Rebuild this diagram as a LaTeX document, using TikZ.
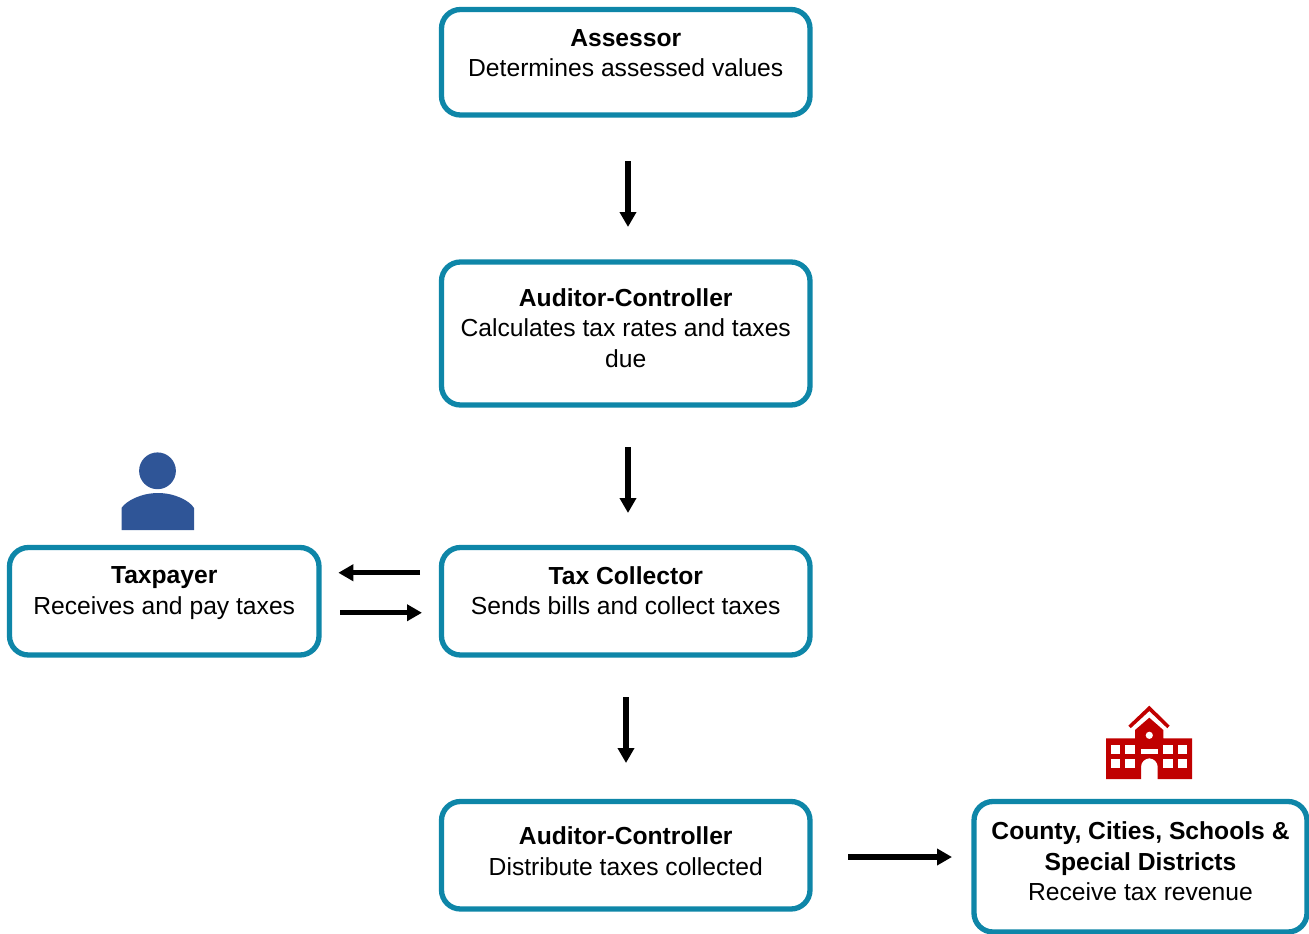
\documentclass[tikz,border=0pt]{standalone}
\usepackage{fontspec}
\setmainfont{Liberation Sans}
\usetikzlibrary{arrows.meta}
\definecolor{boxteal}{HTML}{0E86A8}
\definecolor{personblue}{HTML}{2F5597}
\definecolor{schoolred}{HTML}{C00000}
\tikzset{
  every node/.style={font=\fontsize{24.65}{30.5}\selectfont},
  flowbox/.style={draw=boxteal,line width=5.3pt,rounded corners=19pt,fill=white,align=center,outer sep=0pt,inner sep=0pt,text=black},
  flowarrow/.style={line width=5.2pt,-{Triangle[length=15pt,width=16pt]},black},
}
\begin{document}
\begin{tikzpicture}[x=1pt,y=-1pt]
\useasboundingbox (0,0) rectangle (1309,934);
\node[flowbox,minimum width=368.5pt,minimum height=105.5pt,text depth=18.4pt] (assessor) at (625.75,62.25)
  {\textbf{Assessor}\\Determines assessed values};
\node[flowbox,minimum width=368.5pt,minimum height=143pt,text depth=11pt] (auditorA) at (625.75,333.5)
  {\textbf{Auditor-Controller}\\Calculates tax rates and taxes\\due};
\node[flowbox,minimum width=368.5pt,minimum height=107.5pt,text depth=21pt] (collector) at (625.75,601.25)
  {\textbf{Tax Collector}\\Sends bills and collect taxes};
\node[flowbox,minimum width=309.5pt,minimum height=107.5pt,text depth=21pt] (taxpayer) at (164.25,601.25)
  {\textbf{Taxpayer}\\Receives and pay taxes};
\node[flowbox,minimum width=368.5pt,minimum height=107.5pt,text depth=8.4pt] (auditorB) at (625.75,855.25)
  {\textbf{Auditor-Controller}\\Distribute taxes collected};
\node[flowbox,minimum width=333pt,minimum height=130.5pt,text depth=10.4pt] (districts) at (1140.5,866.75)
  {\textbf{County, Cities, Schools \&}\\\textbf{Special Districts}\\Receive tax revenue};

\draw[flowarrow,shorten <=46pt,shorten >=35pt] ([xshift=2.25pt]assessor.south) -- ([xshift=2.25pt]auditorA.north);
\draw[flowarrow,shorten <=42pt,shorten >=34.5pt] ([xshift=2.25pt]auditorA.south) -- ([xshift=2.25pt]collector.north);
\draw[flowarrow,shorten <=42pt,shorten >=38.5pt] ([xshift=.25pt]collector.south) -- ([xshift=.25pt]auditorB.north);
\draw[flowarrow,shorten <=21.5pt,shorten >=19.3pt] ([yshift=28.5pt]collector.west) -- ([yshift=28.5pt]collector.west -| taxpayer.east);
\draw[flowarrow,shorten <=21pt,shorten >=19.5pt] ([yshift=-11.5pt]taxpayer.east) -- ([yshift=-11.5pt]taxpayer.east -| collector.west);
\draw[flowarrow,shorten <=38pt,shorten >=22pt] ([yshift=-1.75pt]auditorB.east) -- ([yshift=-1.75pt]auditorB.east -| districts.west);

% person icon
\fill[personblue] (157.5,470.8) circle[radius=18.4];
\fill[personblue] (121.5,530) -- (121.5,508)
  .. controls (126,501) and (141,493) .. (158,493)
  .. controls (175,493) and (190,501) .. (194,508) -- (194,530) -- cycle;

% school icon
\fill[schoolred] (1128.3,725.7) -- (1149.3,705.7) -- (1169.7,725.7) -- (1167.3,728.2) -- (1149.3,711) -- (1130.7,728.2) -- cycle;
\fill[schoolred] (1106,738.3) -- (1135,738.3) -- (1135,730) -- (1149.3,717.7) -- (1163.3,730) -- (1163.3,738.3) -- (1192,738.3) -- (1192,779) -- (1157.7,779) -- (1157.7,766.7)
  arc[start angle=0,end angle=-180,radius=8.35] -- (1141,779) -- (1106,779) -- cycle;
\fill[white] (1149.3,735.3) circle[radius=3.6];
\fill[white] (1141,749.3) rectangle (1157.7,754.3);
\foreach \wx in {1111,1125.3,1163.3,1178}
  \foreach \wy in {745,759}
    \fill[white] (\wx,\wy) rectangle ++(9.2,9.3);
\end{tikzpicture}
\end{document}
